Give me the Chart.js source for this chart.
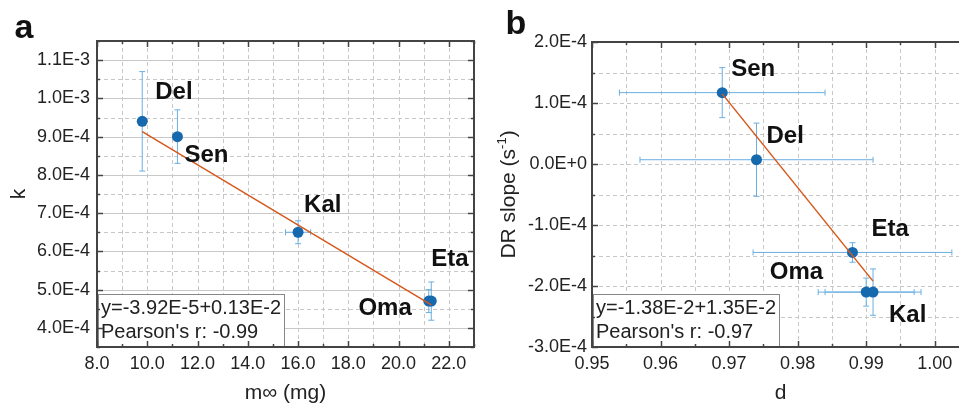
<!DOCTYPE html>
<html>
<head>
<meta charset="utf-8">
<script src="https://cdn.jsdelivr.net/npm/chart.js@4.4.1/dist/chart.umd.min.js"></script>
<style>
body { margin: 0; background: #fff; overflow: hidden; }
#wrap { position: relative; width: 959px; height: 403px; overflow: hidden; }
#chartA { position: absolute; left: 0; top: 0; }
#chartB { position: absolute; left: 480px; top: 0; }
</style>
</head>
<body>
<div id="wrap">
  <canvas id="chartA" width="480" height="403"></canvas>
  <canvas id="chartB" width="500" height="403"></canvas>
</div>
<script>
var FONT = '"Liberation Sans", Arial, sans-serif'
var BLUE = '#1769ae'
var ERR = '#6aafe0'
var FIT = '#d6581c'

// panel a : k vs m-infinity
var namesA = ['Del', 'Sen', 'Kal', 'Oma', 'Eta']
var mInf = [9.8, 11.2, 16.0, 21.2, 21.3]
var mInfErr = [0, 0, 0.5, 0, 0]
var kVal = [9.4e-4, 9.0e-4, 6.5e-4, 4.7e-4, 4.7e-4]
var kErr = [1.3e-4, 0.7e-4, 0.3e-4, 0.3e-4, 0.5e-4]
var fitAx = [9.8, 21.3]
var fitAy = [9.13e-4, 4.60e-4]
var boxA = ['y=-3.92E-5+0.13E-2', "Pearson's r: -0.99"]

// panel b : DR slope vs d
var namesB = ['Sen', 'Del', 'Eta', 'Oma', 'Kal']
var dVal = [0.969, 0.974, 0.988, 0.990, 0.991]
var dErr = [0.015, 0.017, 0.0145, 0.007, 0.007]
var drSlope = [1.17e-4, 0.07e-4, -1.45e-4, -2.10e-4, -2.10e-4]
var drErr = [0.41e-4, 0.60e-4, 0.16e-4, 0.23e-4, 0.38e-4]
var fitBx = [0.969, 0.991]
var fitBy = [1.15e-4, -1.92e-4]
var boxB = ['y=-1.38E-2+1.35E-2', "Pearson's r: -0.97"]

// label placement, pixels from the point
var labelPosA = { Del: [13, -29, 'left'], Sen: [7, 19, 'left'], Kal: [6, -27, 'left'], Eta: [0, -42, 'left'], Oma: [-17, 7, 'right'] }
var labelPosB = { Sen: [9, -23, 'left'], Del: [10, -23, 'left'], Eta: [19, -23, 'left'], Oma: [-43, -20, 'right'], Kal: [16, 23, 'left'] }

function pts(xs, ys) {
    var out = []
    for (var i = 0; i < xs.length; i++) out.push({ x: xs[i], y: ys[i] })
    return out
}

function sci(v) {
    return v.toExponential(1).toUpperCase()
}

function seg(ctx, x1, y1, x2, y2) {
    ctx.beginPath()
    ctx.moveTo(x1, y1)
    ctx.lineTo(x2, y2)
    ctx.stroke()
}

function drawParts(ctx, x, y, parts, rotate) {
    ctx.save()
    ctx.translate(x, y)
    if (rotate) ctx.rotate(-Math.PI / 2)
    var w = 0
    parts.forEach(function (p) { ctx.font = p.s + 'px ' + FONT; w += ctx.measureText(p.t).width })
    var cx = -w / 2
    ctx.textBaseline = 'middle'
    ctx.textAlign = 'left'
    ctx.fillStyle = '#222'
    parts.forEach(function (p) {
        ctx.font = p.s + 'px ' + FONT
        ctx.fillText(p.t, cx, p.dy || 0)
        cx += ctx.measureText(p.t).width
    })
    ctx.restore()
}

function decor(p) {
    return {
        id: 'decor',
        beforeDatasetsDraw: function (chart) {
            var ctx = chart.ctx, a = chart.chartArea, xs = chart.scales.x, ys = chart.scales.y
            ctx.save()
            ctx.lineWidth = 1
            ctx.strokeStyle = '#c8c8c8'
            xs.ticks.forEach(function (t) {
                var px = Math.round(xs.getPixelForValue(t.value)) + 0.5
                if (px < a.left + 2 || px > a.right - 2) return
                ctx.setLineDash([4, 3])
                seg(ctx, px, a.top, px, a.bottom)
            })
            ys.ticks.forEach(function (t) {
                var py = Math.round(ys.getPixelForValue(t.value)) + 0.5
                if (py < a.top + 2 || py > a.bottom - 2) return
                ctx.setLineDash(p.solidMajorY && t.label !== '' ? [] : [4, 3])
                seg(ctx, a.left, py, a.right, py)
            })
            ctx.setLineDash([])
            ctx.strokeStyle = ERR
            for (var i = 0; i < p.x.length; i++) {
                var cx = xs.getPixelForValue(p.x[i]), cy = ys.getPixelForValue(p.y[i])
                if (p.yErr[i]) {
                    var y1 = ys.getPixelForValue(p.y[i] + p.yErr[i])
                    var y2 = ys.getPixelForValue(p.y[i] - p.yErr[i])
                    seg(ctx, cx, y1, cx, y2)
                    seg(ctx, cx - 3, y1, cx + 3, y1)
                    seg(ctx, cx - 3, y2, cx + 3, y2)
                }
                if (p.xErr[i]) {
                    var x1 = xs.getPixelForValue(p.x[i] - p.xErr[i])
                    var x2 = xs.getPixelForValue(p.x[i] + p.xErr[i])
                    seg(ctx, x1, cy, x2, cy)
                    seg(ctx, x1, cy - 3, x1, cy + 3)
                    seg(ctx, x2, cy - 3, x2, cy + 3)
                }
            }
            ctx.restore()
        },
        afterDatasetsDraw: function (chart) {
            var ctx = chart.ctx, a = chart.chartArea, xs = chart.scales.x, ys = chart.scales.y
            ctx.save()
            // point labels
            ctx.font = 'bold 24px ' + FONT
            ctx.fillStyle = '#111'
            ctx.textBaseline = 'middle'
            for (var i = 0; i < p.names.length; i++) {
                var lp = p.labelPos[p.names[i]]
                ctx.textAlign = lp[2]
                ctx.fillText(p.names[i], xs.getPixelForValue(p.x[i]) + lp[0], ys.getPixelForValue(p.y[i]) + lp[1])
            }
            // fit box
            var bx = a.left + 1, by = a.bottom - 53
            ctx.fillStyle = '#fff'
            ctx.fillRect(bx, by, 186, 53)
            ctx.strokeStyle = '#888'
            ctx.lineWidth = 1
            ctx.strokeRect(bx + 0.5, by + 0.5, 186, 52)
            ctx.fillStyle = '#222'
            ctx.font = '20px ' + FONT
            ctx.textAlign = 'left'
            ctx.fillText(p.box[0], bx + 3, a.bottom - 39)
            ctx.fillText(p.box[1], bx + 3, a.bottom - 15)
            // frame and inward ticks
            ctx.strokeStyle = '#444'
            ctx.lineWidth = 2
            ctx.strokeRect(a.left, a.top, a.right - a.left, a.bottom - a.top)
            ctx.lineWidth = 1.5
            xs.ticks.forEach(function (t) {
                var px = Math.round(xs.getPixelForValue(t.value)) + 0.5
                var len = t.label !== '' ? 6 : 3
                seg(ctx, px, a.bottom, px, a.bottom - len)
                seg(ctx, px, a.top, px, a.top + len)
            })
            ys.ticks.forEach(function (t) {
                var py = Math.round(ys.getPixelForValue(t.value)) + 0.5
                var len = t.label !== '' ? 6 : 3
                seg(ctx, a.left, py, a.left + len, py)
                seg(ctx, a.right, py, a.right - len, py)
            })
            ctx.restore()
            // axis titles
            drawParts(ctx, (a.left + a.right) / 2, a.bottom + 46, p.xTitle, false)
            drawParts(ctx, a.left - p.yTitleGap, (a.top + a.bottom) / 2, p.yTitle, true)
            // panel letter
            ctx.save()
            ctx.font = 'bold 34px ' + FONT
            ctx.fillStyle = '#111'
            ctx.textAlign = 'center'
            ctx.textBaseline = 'middle'
            ctx.fillText(p.letter[0], p.letter[1], p.letter[2])
            ctx.restore()
        }
    }
}

function makeChart(id, d) {
    return new Chart(id, {
        type: 'scatter',
        data: {
            datasets: [{
                data: pts(d.fitX, d.fitY),
                showLine: true,
                borderColor: FIT,
                borderWidth: 1.5,
                pointRadius: 0,
                order: 0
            }, {
                data: pts(d.x, d.y),
                backgroundColor: BLUE,
                borderWidth: 0,
                pointRadius: 5.5,
                pointHoverRadius: 5.5,
                order: 1
            }]
        },
        options: {
            responsive: false,
            animation: false,
            devicePixelRatio: 1,
            layout: { padding: d.padding },
            plugins: { legend: { display: false }, tooltip: { enabled: false } },
            scales: {
                x: {
                    type: 'linear',
                    min: d.xRange[0],
                    max: d.xRange[1],
                    grid: { display: false, drawTicks: false },
                    border: { display: false },
                    afterFit: function (s) { s.height = 56 },
                    ticks: {
                        stepSize: d.xStep,
                        autoSkip: false,
                        maxRotation: 0,
                        padding: 6,
                        color: '#222',
                        font: { family: FONT, size: 18 },
                        callback: d.xLabel
                    }
                },
                y: {
                    type: 'linear',
                    min: d.yRange[0],
                    max: d.yRange[1],
                    grid: { display: false, drawTicks: false },
                    border: { display: false },
                    afterFit: function (s) { s.width = d.yWidth },
                    ticks: {
                        stepSize: 5e-5,
                        autoSkip: false,
                        padding: d.yPad,
                        color: '#222',
                        font: { family: FONT, size: 18 },
                        callback: function (v) { return Math.round(v * 1e5) % 10 === 0 ? sci(v) : '' }
                    }
                }
            }
        },
        plugins: [decor(d)]
    })
}

makeChart('chartA', {
    names: namesA, x: mInf, y: kVal, xErr: mInfErr, yErr: kErr,
    fitX: fitAx, fitY: fitAy, box: boxA, labelPos: labelPosA,
    xRange: [8, 23], yRange: [3.5e-4, 1.15e-3], xStep: 1,
    xLabel: function (v) { return Math.round(v) % 2 === 0 ? v.toFixed(1) : '' },
    padding: { top: 41, right: 6, left: 0, bottom: 0 },
    yWidth: 97, yPad: 7, solidMajorY: true,
    xTitle: [{ t: 'm\u221e (mg)', s: 21 }],
    yTitle: [{ t: 'k', s: 21 }], yTitleGap: 78,
    letter: ['a', 24, 29]
})

makeChart('chartB', {
    names: namesB, x: dVal, y: drSlope, xErr: dErr, yErr: drErr,
    fitX: fitBx, fitY: fitBy, box: boxB, labelPos: labelPosB,
    xRange: [0.95, 1.005], yRange: [-3e-4, 2e-4], xStep: 0.005,
    xLabel: function (v) { return Math.round(v * 1000) % 10 === 0 ? v.toFixed(2) : '' },
    padding: { top: 42, right: 11, left: 0, bottom: 0 },
    yWidth: 112, yPad: 5, solidMajorY: false,
    xTitle: [{ t: 'd', s: 21 }],
    yTitle: [{ t: 'DR slope (s', s: 21 }, { t: '-1', s: 13, dy: -7 }, { t: ')', s: 21 }], yTitleGap: 83,
    letter: ['b', 36, 25]
})
</script>
</body>
</html>
